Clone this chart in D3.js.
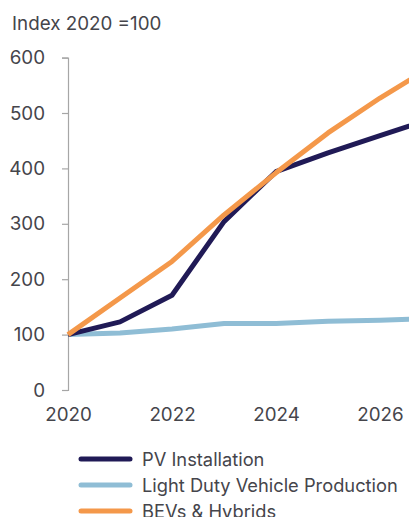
<!DOCTYPE html>
<html>
<head>
<meta charset="utf-8">
<script src="https://cdn.jsdelivr.net/npm/d3@7"></script>
<style>
  html, body { margin: 0; padding: 0; background: #fff; }
  svg { display: block; font-family: Inter, "Noto Sans", sans-serif; }
</style>
</head>
<body>
<svg id="chart" width="409" height="517"></svg>
<script>
// Yearly index values, 2020 = 100
const years = [2020, 2021, 2022, 2023, 2024, 2025, 2026, 2027];
const pvInstallation = [100, 123, 171, 304, 394, 428, 459, 490];
const lightDutyVehicles = [100, 103, 110, 120, 120, 124, 126, 129];
const bevsHybrids = [100, 166, 232, 316, 392, 464, 527, 584];
const yTicks = [0, 100, 200, 300, 400, 500, 600];
const xTicks = [2020, 2022, 2024, 2026];
const seriesNames = ["PV Installation", "Light Duty Vehicle Production", "BEVs & Hybrids"];
const seriesColors = ["#201a56", "#8fbdd5", "#f4984a"];

const series = [pvInstallation, lightDutyVehicles, bevsHybrids];

const svg = d3.select("#chart");
const textColor = "#45454b";
const fontFamily = "Inter, 'Noto Sans', sans-serif";

const x = d3.scaleLinear().domain([2020, 2027]).range([68, 432]);
const y = d3.scaleLinear().domain([0, 600]).range([390, 57.6]);

// Unit label
svg.append("text")
  .attr("x", 12).attr("y", 30)
  .attr("fill", textColor)
  .attr("font-size", 18.8)
  .text("Index 2020 =100");

// Left axis
const yAxis = svg.append("g")
  .attr("transform", `translate(${x(2020)},0)`)
  .call(d3.axisLeft(y).tickValues(yTicks).tickSize(6).tickPadding(17).tickFormat(d3.format("d")));
yAxis.select(".domain").attr("stroke", "#a6a6a6").attr("stroke-width", 1.2);
yAxis.selectAll(".tick line").attr("stroke", "#a6a6a6").attr("stroke-width", 1.2);
yAxis.selectAll(".tick text")
  .attr("fill", textColor)
  .attr("font-size", 18.8)
  .attr("font-family", fontFamily);

// Bottom labels (no axis line)
const xAxis = svg.append("g")
  .attr("transform", `translate(0,${y(0)})`)
  .call(d3.axisBottom(x).tickValues(xTicks).tickSize(0).tickPadding(18).tickFormat(d3.format("d")));
xAxis.select(".domain").remove();
xAxis.selectAll(".tick text")
  .attr("fill", textColor)
  .attr("font-size", 18.8)
  .attr("font-family", fontFamily);

// Lines, drawn light blue first, then navy, then orange on top
const line = d3.line().x((d, i) => x(years[i])).y(d => y(d));
const order = [1, 0, 2];
svg.append("g").selectAll("path")
  .data(order)
  .join("path")
  .attr("d", i => line(series[i]))
  .attr("fill", "none")
  .attr("stroke", i => seriesColors[i])
  .attr("stroke-width", 5)
  .attr("stroke-linejoin", "round");

// Legend
const legend = svg.append("g");
const legendY = d3.scalePoint().domain(seriesNames).range([459, 511]);
seriesNames.forEach((name, i) => {
  const g = legend.append("g").attr("transform", `translate(0,${legendY(name)})`);
  g.append("line")
    .attr("x1", 81).attr("x2", 130)
    .attr("stroke", seriesColors[i])
    .attr("stroke-width", 5)
    .attr("stroke-linecap", "round");
  g.append("text")
    .attr("x", 142).attr("y", 0)
    .attr("dy", "0.36em")
    .attr("fill", textColor)
    .attr("font-size", 18.3)
    .text(name);
});
</script>
</body>
</html>
